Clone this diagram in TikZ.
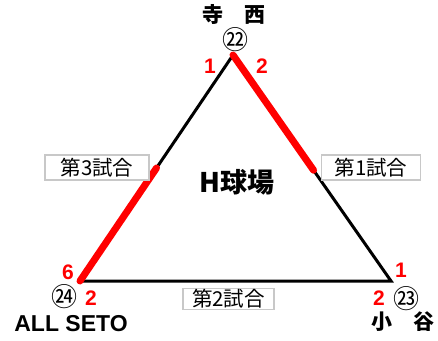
\documentclass[tikz,border=0pt]{standalone}
\usepackage{fontspec}
\setmainfont{Liberation Sans}
\newfontfamily\jpfont{Noto Sans CJK JP}
\usetikzlibrary{calc}
\definecolor{boxgray}{RGB}{200,200,200}
\definecolor{winred}{RGB}{255,0,0}
\tikzset{
score/.style = {text=winred, font=\fontsize{21}{21}\selectfont\bfseries,
                inner sep=0pt},
seed/.style = {font=\jpfont\fontsize{26}{26}\selectfont, inner sep=0pt},
team/.style = {font=\jpfont\fontsize{21}{21}\selectfont\bfseries, inner sep=0pt},
game/.style = {rectangle, draw=boxgray, line width=1.6pt, fill=white,
               font=\jpfont\fontsize{20.5}{20.5}\selectfont, inner sep=0pt,
               minimum height=25pt, minimum width=#1},
game/.default = 100pt
}
\tikzset{
edge/.style = {line width=3pt, black},
won/.style = {line width=7pt, winred, line cap=round}
}

\begin{document}
\begin{tikzpicture}[x=1pt, y=-1pt]
    \useasboundingbox (0,0) rectangle (438,340);

    \coordinate (topV) at (233,55);
    \coordinate (leftV) at (80,281);
    \coordinate (rightV) at (391,281);

    \draw[edge, line join=miter] (topV) -- (rightV) -- (leftV) -- cycle;
    \draw[won] (topV) -- ($(topV)!0.51!(rightV)$);
    \draw[won] (leftV) -- ($(leftV)!0.5!(topV)$);

    \node[game=104pt] (game3) at (97,167.5) {第3試合};
    \node[game=99pt] (game1) at (371,167.5) {第1試合};
    \node[game=91pt, minimum height=21pt] (game2) at (228.5,299) {第2試合};

    \node[font=\jpfont\fontsize{27}{27}\selectfont\bfseries, inner sep=0pt] (ground) at (237,182) {H球場};

    \node[team] (teraNishi) at (234,14) {寺　西};
    \node[seed] (seed22) at (235,40) {㉒};
    \node[score] (topL) at (210,66) {1};
    \node[score] (topR) at (262,66) {2};

    \node[score] (leftT) at (68,272) {6};
    \node[seed] (seed24) at (64,297) {㉔};
    \node[score] (leftB) at (91,298) {2};
    \node[font=\fontsize{23}{23}\selectfont\bfseries, inner sep=0pt] (allSeto) at (71,324) {ALL SETO};

    \node[score] (rightT) at (401,270) {1};
    \node[score] (rightB) at (379,298) {2};
    \node[seed] (seed23) at (406,299) {㉓};
    \node[team] (kotani) at (403,322) {小　谷};
  \end{tikzpicture}
\end{document}
